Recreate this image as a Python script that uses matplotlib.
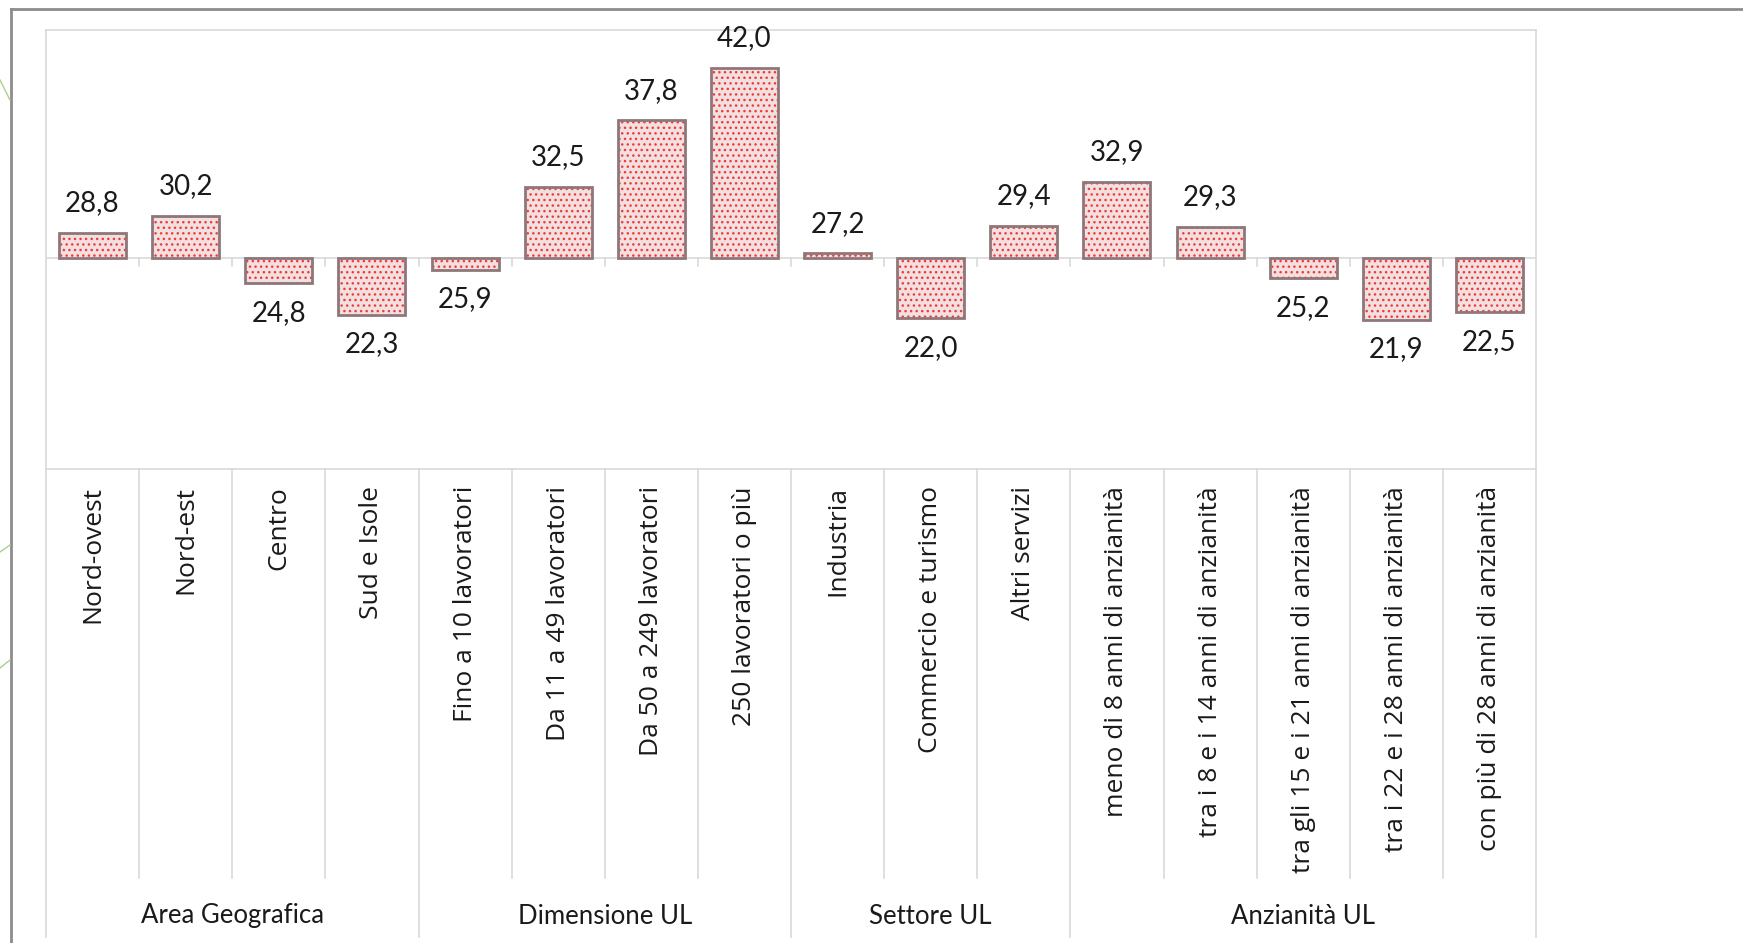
import matplotlib
matplotlib.use("Agg")
import matplotlib.pyplot as plt
from matplotlib.lines import Line2D

# valori
categories = ["Nord-ovest", "Nord-est", "Centro", "Sud e Isole",
              "Fino a 10 lavoratori", "Da 11 a 49 lavoratori",
              "Da 50 a 249 lavoratori", "250 lavoratori o più",
              "Industria", "Commercio e turismo", "Altri servizi",
              "meno di 8 anni di anzianità", "tra i 8 e i 14 anni di anzianità",
              "tra gli 15 e i 21 anni di anzianità", "tra i 22 e i 28 anni di anzianità",
              "con più di 28 anni di anzianità"]
values = [28.8, 30.2, 24.8, 22.3, 25.9, 32.5, 37.8, 42.0, 27.2, 22.0,
          29.4, 32.9, 29.3, 25.2, 21.9, 22.5]
groups = ["Area Geografica", "Dimensione UL", "Settore UL", "Anzianità UL"]
group_sizes = [4, 4, 3, 5]
baseline = 26.8   # valore medio (asse orizzontale)

W, H = 1743, 943
fig = plt.figure(figsize=(W / 100, H / 100), dpi=100)
fig.patch.set_facecolor("white")

def fx(px):
    return px / W

def fy(py):
    return 1 - py / H

# cornice esterna grigia
fig.add_artist(Line2D([fx(11), fx(11)], [fy(9), 0], color="#8c8c8c", lw=2))
fig.add_artist(Line2D([fx(11), 1], [fy(9), fy(9)], color="#8c8c8c", lw=2))
# tratti verdi decorativi a sinistra
fig.add_artist(Line2D([0, fx(10)], [fy(80), fy(100)], color="#a8d08d", lw=1))
fig.add_artist(Line2D([0, fx(10)], [fy(552), fy(545)], color="#a8d08d", lw=1))
fig.add_artist(Line2D([0, fx(10)], [fy(668), fy(660)], color="#a8d08d", lw=1))

left, right, top, axis_y, bottom = 46, 1536, 30, 469, 937
n = len(values)

ax = fig.add_axes([fx(left), fy(axis_y), fx(right - left), (axis_y - top) / H])
ax.set_xlim(0, n)
ax.set_ylim(10, 45)
for s in ax.spines.values():
    s.set_color("#d9d9d9")
    s.set_linewidth(1.2)
ax.set_xticks([])
ax.set_yticks([])

xs = [i + 0.5 for i in range(n)]
heights = [v - baseline for v in values]
ax.axhline(baseline, color="#d9d9d9", lw=1.2, zorder=1)
for i in range(1, n):
    ax.plot([i, i], [baseline, baseline - 0.6], color="#d9d9d9", lw=1.2, zorder=1)

ax.bar(xs, heights, bottom=baseline, width=0.72, color="#f2e0e1",
       edgecolor="#f03a3a", linewidth=0, hatch="...", zorder=2)
ax.bar(xs, heights, bottom=baseline, width=0.72, fill=False,
       edgecolor="#8f7779", linewidth=2, zorder=3)

for x, v in zip(xs, values):
    up = v >= baseline
    ax.annotate(f"{v:.1f}".replace(".", ","), (x, v),
                xytext=(0, 12 if up else -12), textcoords="offset points",
                ha="center", va="bottom" if up else "top",
                fontsize=20, family="Lato", color="#1a1a1a")

# area etichette
lab = fig.add_axes([fx(left), fy(bottom), fx(right - left), (bottom - axis_y) / H])
lab.set_xlim(0, n)
lab.set_ylim(1, 0)
lab.axis("off")

bounds = [0]
for g in group_sizes:
    bounds.append(bounds[-1] + g)
for i in range(n + 1):
    y_end = 1.0 if i in bounds else (878 - axis_y) / (bottom - axis_y)
    lab.plot([i, i], [0, y_end], color="#d9d9d9", lw=1.2, clip_on=False)

for x, c in zip(xs, categories):
    lab.text(x, (486 - axis_y) / (bottom - axis_y), c, rotation=90,
             ha="center", va="top", fontsize=19, family="Open Sans",
             color="#1a1a1a")

for g, a, b in zip(groups, bounds[:-1], bounds[1:]):
    lab.text((a + b) / 2, (916 - axis_y) / (bottom - axis_y), g,
             ha="center", va="center", fontsize=18.5, family="Lato",
             color="#1a1a1a")

fig.savefig("out.png", dpi=100, facecolor="white")
